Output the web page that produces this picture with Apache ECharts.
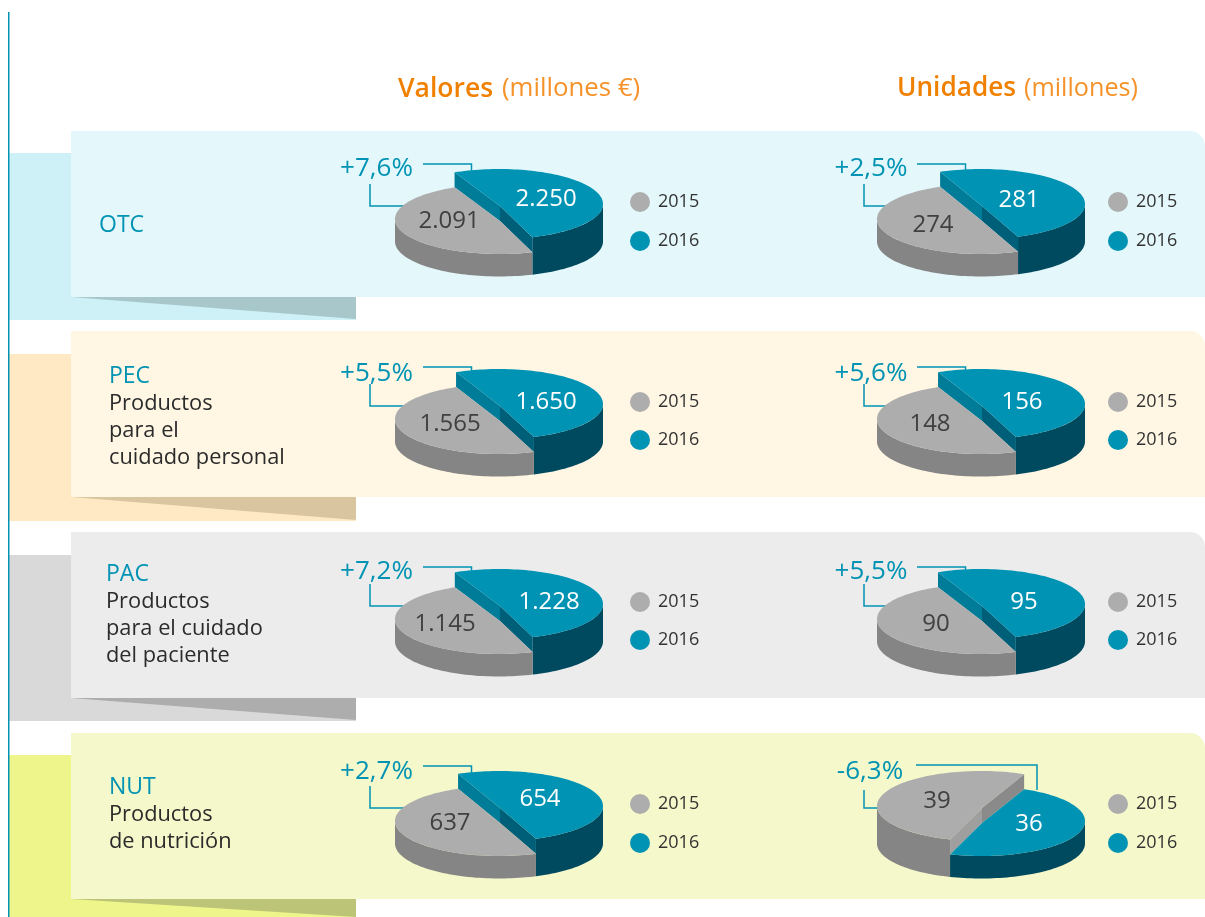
<!DOCTYPE html>
<html><head><meta charset="utf-8">
<style>html,body{margin:0;padding:0;background:#fff}#c{width:1205px;height:917px}</style>
<script src="https://cdn.jsdelivr.net/npm/echarts@6/dist/echarts.min.js"></script>
</head><body><div id="c"></div>
<script>
// ---- data ----
const categories = ['OTC', 'PEC', 'PAC', 'NUT'];
const categoryLines = [[], ['Productos', 'para el', 'cuidado personal'], ['Productos', 'para el cuidado', 'del paciente'], ['Productos', 'de nutrición']];
const years = ['2015', '2016'];
const valores2015 = [2091, 1565, 1145, 637];
const valores2016 = [2250, 1650, 1228, 654];
const unidades2015 = [274, 148, 90, 39];
const unidades2016 = [281, 156, 95, 36];
const valoresChange = ['+7,6%', '+5,5%', '+7,2%', '+2,7%'];
const unidadesChange = ['+2,5%', '+5,6%', '+5,5%', '-6,3%'];

// ---- layout and style ----
const F = '"Open Sans"';
const ACC = '#0093B3';
const panelTop = [131, 331, 532, 733], panelH = 166;
const stripTop = [153, 354, 555, 755], stripBottom = [320, 521, 721, 917];
const panelFill = ['#E4F8FB', '#FFF6E3', '#ECECEC', '#F5F8CA'];
const stripFill = ['#CDF1F6', '#FFE9C4', '#D9D9D9', '#EDF58B'];
const shadeFill = ['#A7C7CB', '#D9C6A0', '#ADADAD', '#BCC478'];
const catX = [99, 109, 106, 109], catY = [223, 374, 572, 785];
const pieCx = [499, 981], rowCy = [204, 404, 604, 806], RX = 104, RY = 35, LIFT = 15, BOTTOM = 37.5;
const legendX = [630, 1108], legendTop = [192, 392, 592, 794], legendGap = [19, 18, 18, 19];
const changeX = [376.5, 871], changeY = [167, 372, 570, 770];
const calloutTop = [164, 367, 567, 766];
const faces = {
  '2015': {top: '#ADADAD', wall: '#858585', back: '#8A8A8A', front: '#9F9F9F', text: '#404040'},
  '2016': {top: '#0093B3', wall: '#004A60', back: '#007C98', front: '#005F78', text: '#FFFFFF'}
};
// label anchors: [x2015, y2015, x2016, y2016] per row, per measure
const labelPos = [
  [[449, 221, 546, 199], [450, 424, 546, 402], [445, 624, 549, 602], [450, 823, 540, 799]],
  [[933, 225, 1019, 200], [930, 424, 1022, 402], [936, 624, 1024, 602], [937, 801, 1029, 824]]
];
const fmt = v => String(v).replace(/\B(?=(\d{3})+$)/g, '.');

const rows = [];
categories.forEach((c, r) => {
  rows.push([0, r, valores2015[r], valores2016[r]]);
  rows.push([1, r, unidades2015[r], unidades2016[r]]);
});

function arc(cx, cy, a, b) {
  const n = Math.max(2, Math.ceil(Math.abs(b - a) / 2)), out = [];
  for (let i = 0; i <= n; i++) {
    const t = (a + (b - a) * i / n) * Math.PI / 180;
    out.push([cx + RX * Math.cos(t), cy + RY * Math.sin(t)]);
  }
  return out;
}
function sliceRender(yearIdx) {
  return function (params, api) {
    const col = api.value(0), row = api.value(1), v15 = api.value(2), v16 = api.value(3);
    const total = v15 + v16, cx = pieCx[col], raisedCy = rowCy[row];
    const sweep16 = 360 * v16 / total;
    const start16 = (v16 >= v15 ? -22 : 20.9) - sweep16 / 2;
    const end16 = start16 + sweep16;
    const a = yearIdx === 1 ? start16 : end16;
    const b = yearIdx === 1 ? end16 : start16 + 360;
    const raised = yearIdx === 1 ? v16 >= v15 : v15 > v16;
    const f = faces[years[yearIdx]];
    const cy = raised ? raisedCy : raisedCy + LIFT, botCy = raisedCy + BOTTOM;
    const z = raised ? 1 : 10;
    const px = cx + 1, py = cy + 2;
    const children = [];
    // outer wall: the part of the rim facing the viewer
    [[0, 180], [360, 540]].forEach(w => {
      const lo = Math.max(a, w[0]), hi = Math.min(b, w[1]);
      if (hi > lo) {
        children.push({type: 'polygon', z2: z, silent: true,
          shape: {points: arc(cx, cy, lo, hi).concat(arc(cx, botCy, hi, lo))},
          style: {fill: f.wall}});
      }
    });
    // cut wall of the raised slice
    if (raised) {
      [a, b].forEach(t => {
        const p = arc(cx, cy, t, t + 1)[0];
        children.push({type: 'polygon', z2: z, silent: true,
          shape: {points: [[px, py], p, [p[0], p[1] + LIFT], [px, py + LIFT]]},
          style: {fill: Math.sin(t * Math.PI / 180) < 0 ? f.back : f.front}});
      });
    }
    // top face
    children.push({type: 'polygon', z2: z + 1, silent: true,
      shape: {points: [[px, py]].concat(arc(cx, cy, a, b))},
      style: {fill: f.top}});
    const lp = labelPos[col][row];
    children.push({type: 'text', z2: 100, silent: true,
      style: {x: lp[yearIdx * 2], y: lp[yearIdx * 2 + 1], text: fmt(api.value(2 + yearIdx)),
        font: '24px ' + F, fill: f.text, align: 'center', verticalAlign: 'middle'}});
    return {type: 'group', children};
  };
}

const graphics = [{type: 'rect', z: 5, shape: {x: 8, y: 12, width: 1.5, height: 905}, style: {fill: ACC}}];
function txt(x, y, t, size, fill, weight, align) {
  graphics.push({type: 'text', z: 3, silent: true, style: {x, y: y + 2, text: t, fill,
    font: (weight || 'normal') + ' ' + size + 'px ' + F, align: align || 'left', verticalAlign: 'middle'}});
}
function poly(pts) {
  graphics.push({type: 'polyline', z: 3, silent: true, shape: {points: pts},
    style: {stroke: ACC, lineWidth: 1.5, fill: null}});
}
txt(398, 87, 'Valores', 26.5, '#F08000', '600');
txt(502, 87, '(millones €)', 25.8, '#F5922A');
txt(897, 87, 'Unidades', 26.2, '#F08000', '600');
txt(1024, 87, '(millones)', 25.2, '#F5922A');
categories.forEach((c, r) => {
  graphics.push({type: 'rect', z: 0, shape: {x: 9, y: stripTop[r], width: 347, height: stripBottom[r] - stripTop[r]}, style: {fill: stripFill[r]}});
  graphics.push({type: 'polygon', z: 1, shape: {points: [[71, panelTop[r] + panelH], [356, panelTop[r] + panelH], [356, stripBottom[r] === 917 ? 917 : stripBottom[r] - 1]]}, style: {fill: shadeFill[r]}});
  graphics.push({type: 'rect', z: 2, shape: {x: 71, y: panelTop[r], width: 1134, height: panelH, r: [0, 15, 0, 0]}, style: {fill: panelFill[r]}});
  txt(catX[r], catY[r], c, 23, ACC);
  categoryLines[r].forEach((l, i) => txt(catX[r], catY[r] + 28 + i * 27, l, 21.8, '#2B2B2B'));
  txt(changeX[0], changeY[r], valoresChange[r], 26, ACC, 'normal', 'center');
  txt(changeX[1] - (r === 3 ? 1 : 0), changeY[r], unidadesChange[r], 26, ACC, 'normal', 'center');
  const d = rowCy[r] - 204;
  [0, 1].forEach(col => {
    const dx = col * 494;
    if (col === 1 && r === 3) {
      poly([[916, 765], [1037, 765], [1037, 790]]);
      poly([[864, 790], [864, 808], [906, 808]]);
    } else {
      poly([[423 + dx, calloutTop[r]], [471.5 + dx, calloutTop[r]], [471.5 + dx, 172 + d]]);
      poly([[370 + dx, 184 + d], [370 + dx, 206 + d], [412 + dx, 206 + d]]);
    }
  });
});

const legends = [];
rows.forEach(rw => {
  legends.push({data: years, orient: 'vertical', left: legendX[rw[0]], top: legendTop[rw[1]], padding: 0,
    icon: 'circle', itemWidth: 20, itemHeight: 20, itemGap: legendGap[rw[1]], selectedMode: false, z: 6,
    textStyle: {fontFamily: F, fontSize: 18, color: '#333', padding: [0, 0, 0, 3]}});
});

const chart = echarts.init(document.getElementById('c'), null, {renderer: 'canvas'});
chart.setOption({
  animation: false,
  backgroundColor: '#fff',
  graphic: {elements: graphics},
  legend: legends,
  series: years.map((y, i) => ({
    type: 'custom', name: y, coordinateSystem: 'none', z: 4, silent: true,
    itemStyle: {color: faces[y].top},
    renderItem: sliceRender(i),
    data: rows
  }))
});
</script></body></html>
